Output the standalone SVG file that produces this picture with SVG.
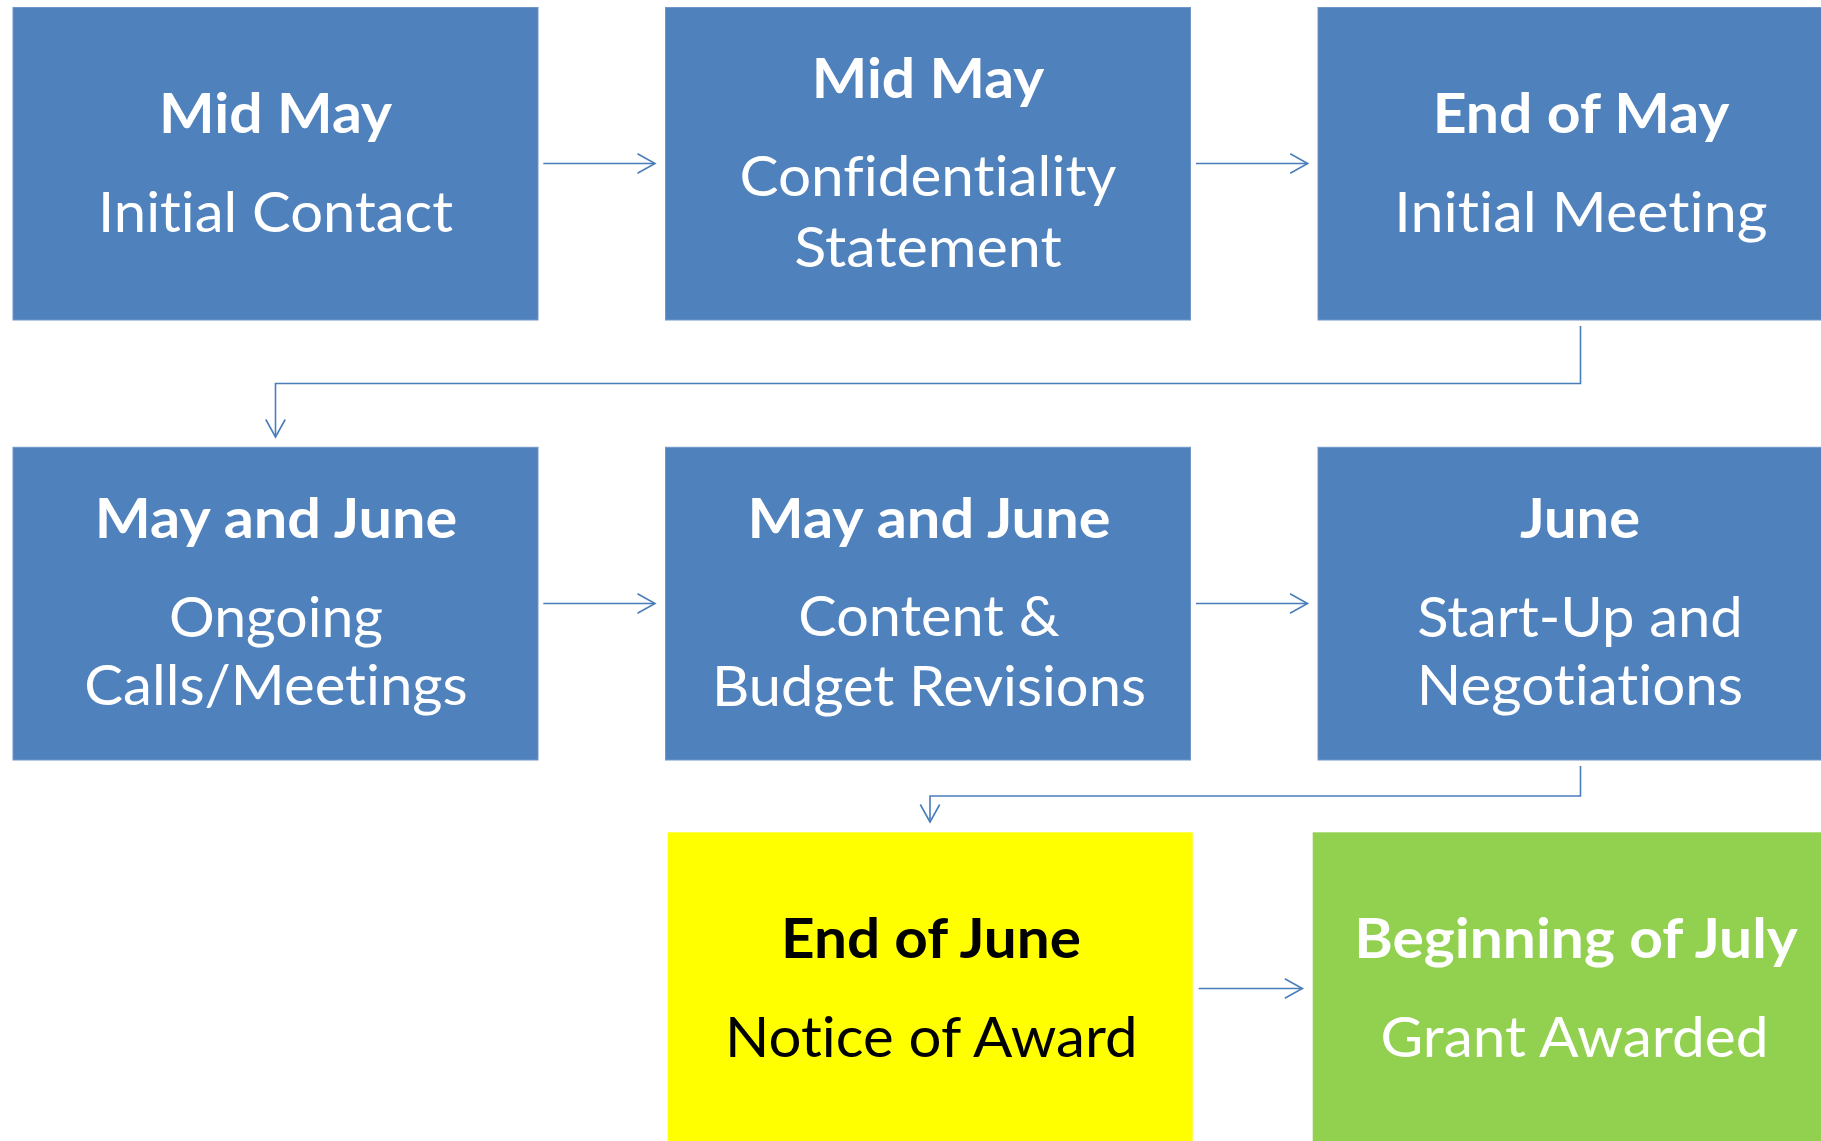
<svg xmlns="http://www.w3.org/2000/svg" width="1821" height="1141" viewBox="0 0 1821 1141">
<style>
.box{fill:#4F81BD;stroke:#6F96C8;stroke-width:1}
.yel{fill:#FFFF00}
.grn{fill:#92D050}
text{font-family:Lato,"Open Sans","Liberation Sans",sans-serif;font-size:56px;text-anchor:middle;fill:#FFFFFF;font-variant-ligatures:none;font-feature-settings:"liga" 0,"dlig" 0,"clig" 0}
.b{font-weight:bold}
.dark{fill:#000000}
.con{fill:none;stroke:#4A7EBB;stroke-width:1.6}
</style>
<defs>
<marker id="arr" markerUnits="userSpaceOnUse" markerWidth="22" markerHeight="24" viewBox="-20 -12 22 24" refX="0" refY="0" orient="auto">
<path d="M-17.5,-9.7 L0,0 L-17.5,9.7" fill="none" stroke="#4A7EBB" stroke-width="1.6"/>
</marker>
</defs>
<rect width="1821" height="1141" fill="#FFFFFF"/>

<g id="connectors">
<line class="con" x1="543.3" y1="163.5" x2="655" y2="163.5" marker-end="url(#arr)"/>
<line class="con" x1="1196" y1="163.5" x2="1307.7" y2="163.5" marker-end="url(#arr)"/>
<path class="con" d="M1580.5,326 L1580.5,383.5 L275.5,383.5 L275.5,437" marker-end="url(#arr)"/>
<line class="con" x1="543.3" y1="603.5" x2="655" y2="603.5" marker-end="url(#arr)"/>
<line class="con" x1="1196" y1="603.5" x2="1307.5" y2="603.5" marker-end="url(#arr)"/>
<path class="con" d="M1580.5,766 L1580.5,796 L930,796 L930,822" marker-end="url(#arr)"/>
<line class="con" x1="1198.7" y1="988.5" x2="1302.3" y2="988.5" marker-end="url(#arr)"/>
</g>

<g id="node1">
<rect class="box" x="13" y="7.5" width="525" height="312.5"/>
<text class="b" x="275.5" y="133.3" textLength="233" lengthAdjust="spacingAndGlyphs">Mid May</text>
<text x="275.5" y="231.7" textLength="355" lengthAdjust="spacingAndGlyphs">Initial Contact</text>
</g>
<g id="node2">
<rect class="box" x="665.5" y="7.5" width="525" height="312.5"/>
<text class="b" x="928" y="98.3" textLength="232.5" lengthAdjust="spacingAndGlyphs">Mid May</text>
<text x="928" y="196" textLength="377" lengthAdjust="spacingAndGlyphs">Confidentiality</text>
<text x="928" y="266.7" textLength="267.5" lengthAdjust="spacingAndGlyphs">Statement</text>
</g>
<g id="node3">
<rect class="box" x="1318" y="7.5" width="525" height="312.5"/>
<text class="b" x="1581" y="133.3" textLength="296.7" lengthAdjust="spacingAndGlyphs">End of May</text>
<text x="1581" y="231.7" textLength="373.3" lengthAdjust="spacingAndGlyphs">Initial Meeting</text>
</g>
<g id="node4">
<rect class="box" x="13" y="447.3" width="525" height="312.7"/>
<text class="b" x="276" y="538.3" textLength="362.5" lengthAdjust="spacingAndGlyphs">May and June</text>
<text x="276" y="636.5" textLength="214" lengthAdjust="spacingAndGlyphs">Ongoing</text>
<text x="276" y="705.3" textLength="383.5" lengthAdjust="spacingAndGlyphs">Calls/Meetings</text>
</g>
<g id="node5">
<rect class="box" x="665.5" y="447.3" width="525" height="312.7"/>
<text class="b" x="929" y="538.3" textLength="363" lengthAdjust="spacingAndGlyphs">May and June</text>
<text x="929" y="636.3" textLength="261.4" lengthAdjust="spacingAndGlyphs">Content &amp;</text>
<text x="929" y="705.5" textLength="434" lengthAdjust="spacingAndGlyphs">Budget Revisions</text>
</g>
<g id="node6">
<rect class="box" x="1318" y="447.3" width="525" height="312.7"/>
<text class="b" x="1580" y="538.3" textLength="120" lengthAdjust="spacingAndGlyphs">June</text>
<text x="1580" y="636.7" textLength="325.6" lengthAdjust="spacingAndGlyphs">Start-Up and</text>
<text x="1580" y="705" textLength="326.3" lengthAdjust="spacingAndGlyphs">Negotiations</text>
</g>
<g id="node7">
<rect class="yel" x="667.7" y="832.3" width="525" height="312.5"/>
<text class="b dark" x="931" y="958.3" textLength="300" lengthAdjust="spacingAndGlyphs">End of June</text>
<text class="dark" x="931.3" y="1056.7" textLength="412.7" lengthAdjust="spacingAndGlyphs">Notice of Award</text>
</g>
<g id="node8">
<rect class="grn" x="1312.7" y="832.3" width="525" height="312.5"/>
<text class="b" x="1576" y="957.7" textLength="443.5" lengthAdjust="spacingAndGlyphs">Beginning of July</text>
<text x="1574.5" y="1056.7" textLength="388" lengthAdjust="spacingAndGlyphs">Grant Awarded</text>
</g>
</svg>
